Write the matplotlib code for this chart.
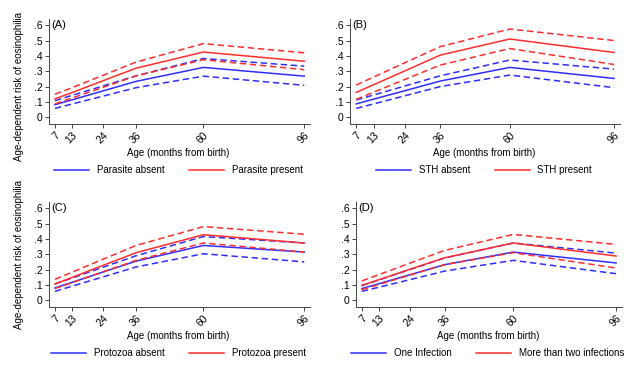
import numpy as np
import matplotlib.pyplot as plt
from matplotlib.lines import Line2D

plt.rcParams['font.family'] = ['Liberation Sans', 'DejaVu Sans']

# Age points (months from birth)
ages = [7, 13, 24, 36, 60, 96]

# Panel A: parasite
a_blue = [0.082, 0.113, 0.171, 0.234, 0.325, 0.268]
a_blue_lo = [0.058, 0.086, 0.137, 0.193, 0.268, 0.208]
a_blue_hi = [0.108, 0.142, 0.203, 0.270, 0.383, 0.333]
a_red = [0.120, 0.160, 0.237, 0.320, 0.425, 0.365]
a_red_lo = [0.087, 0.125, 0.194, 0.270, 0.375, 0.310]
a_red_hi = [0.150, 0.192, 0.272, 0.360, 0.480, 0.420]

# Panel B: STH
b_blue = [0.087, 0.118, 0.174, 0.236, 0.325, 0.253]
b_blue_lo = [0.058, 0.087, 0.141, 0.200, 0.275, 0.193]
b_blue_hi = [0.113, 0.145, 0.205, 0.270, 0.373, 0.314]
b_red = [0.162, 0.212, 0.304, 0.405, 0.510, 0.422]
b_red_lo = [0.117, 0.163, 0.248, 0.340, 0.448, 0.344]
b_red_hi = [0.210, 0.262, 0.357, 0.460, 0.575, 0.500]

# Panel C: protozoa
c_blue = [0.080, 0.116, 0.183, 0.255, 0.357, 0.314]
c_blue_lo = [0.058, 0.091, 0.151, 0.217, 0.303, 0.250]
c_blue_hi = [0.106, 0.144, 0.214, 0.290, 0.415, 0.373]
c_red = [0.106, 0.148, 0.226, 0.310, 0.427, 0.373]
c_red_lo = [0.076, 0.114, 0.184, 0.260, 0.373, 0.314]
c_red_hi = [0.136, 0.182, 0.266, 0.357, 0.480, 0.430]

# Panel D: number of infections
d_blue = [0.076, 0.108, 0.167, 0.232, 0.314, 0.243]
d_blue_lo = [0.058, 0.085, 0.135, 0.190, 0.260, 0.173]
d_blue_hi = [0.095, 0.132, 0.201, 0.275, 0.373, 0.307]
d_red = [0.097, 0.134, 0.203, 0.277, 0.373, 0.288]
d_red_lo = [0.069, 0.103, 0.165, 0.232, 0.310, 0.210]
d_red_hi = [0.126, 0.167, 0.243, 0.325, 0.429, 0.364]

yticks = [0, 0.1, 0.2, 0.3, 0.4, 0.5, 0.6]
ytick_labels = ['0', '.1', '.2', '.3', '.4', '.5', '.6']

BLUE = '#2e2eff'
RED = '#ff2e2e'
AXC = '#444444'
FS = 7

fig = plt.figure(figsize=(6.4, 3.84), dpi=100)

panels = [
    ('(A)', [0.0766, 0.677, 0.408, 0.273], (a_blue, a_blue_lo, a_blue_hi, a_red, a_red_lo, a_red_hi),
     ('Parasite absent', 'Parasite present'), 0.362),
    ('(B)', [0.547, 0.677, 0.422, 0.273], (b_blue, b_blue_lo, b_blue_hi, b_red, b_red_lo, b_red_hi),
     ('STH absent', 'STH present'), None),
    ('(C)', [0.0766, 0.2005, 0.408, 0.273], (c_blue, c_blue_lo, c_blue_hi, c_red, c_red_lo, c_red_hi),
     ('Protozoa absent', 'Protozoa present'), 0.5),
    ('(D)', [0.556, 0.2005, 0.416, 0.273], (d_blue, d_blue_lo, d_blue_hi, d_red, d_red_lo, d_red_hi),
     ('One Infection', 'More than two infections'), None),
]

for tag, pos, data, names, ylab_y in panels:
    ax = fig.add_axes(pos)
    bl, bl_lo, bl_hi, rd, rd_lo, rd_hi = data
    # blue group first, red on top
    ax.plot(ages, bl_lo, color=BLUE, lw=1.1, dashes=(4.2, 2.4))
    ax.plot(ages, bl_hi, color=BLUE, lw=1.1, dashes=(4.2, 2.4))
    ax.plot(ages, bl, color=BLUE, lw=1.1)
    ax.plot(ages, rd_lo, color=RED, lw=1.1, dashes=(4.2, 2.4))
    ax.plot(ages, rd_hi, color=RED, lw=1.1, dashes=(4.2, 2.4))
    ax.plot(ages, rd, color=RED, lw=1.1)

    ax.set_xlim(4.9, 98.1)
    ax.set_ylim(-0.044, 0.639)
    ax.set_xticks(ages)
    ax.set_xticklabels([str(a) for a in ages], rotation=45, ha='right',
                       rotation_mode='anchor', fontsize=7.5)
    ax.set_yticks(yticks)
    ax.set_yticklabels(ytick_labels, fontsize=7.5)
    ax.tick_params(length=3, width=0.7, color=AXC, pad=1.5)
    for s in ['top', 'right']:
        ax.spines[s].set_visible(False)
    for s in ['left', 'bottom']:
        ax.spines[s].set_color(AXC)
        ax.spines[s].set_linewidth(0.7)

    ax.set_xlabel('Age (months from birth)', fontsize=FS)
    ax.xaxis.set_label_coords(0.496, -0.225)
    if ylab_y is not None:
        ax.set_ylabel('Age-dependent risk of eosinophilia', fontsize=FS)
        ax.yaxis.set_label_coords(-0.096, ylab_y)

    ax.text(0.008, 0.943, tag, transform=ax.transAxes, fontsize=8, va='center', ha='left')

    handles = [Line2D([], [], color=BLUE, lw=1.1), Line2D([], [], color=RED, lw=1.1)]
    ax.legend(handles, names, ncol=2, loc='center', bbox_to_anchor=(0.496, -0.44),
              frameon=False, fontsize=FS, handlelength=3.6, handletextpad=0.8,
              columnspacing=2.5, borderaxespad=0)

fig.savefig('out.png', dpi=100)
